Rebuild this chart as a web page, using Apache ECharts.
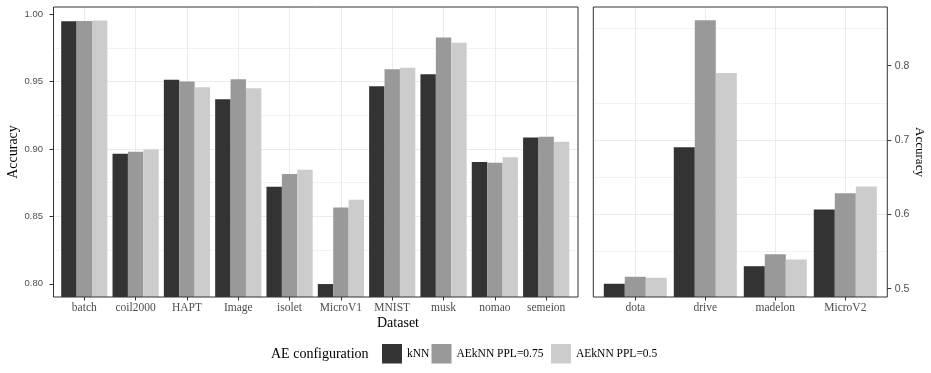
<!DOCTYPE html>
<html>
<head>
<meta charset="utf-8">
<script src="https://cdn.jsdelivr.net/npm/echarts@6/dist/echarts.min.js"></script>
<style>html,body{margin:0;padding:0;background:#fff;}#chart{width:931px;height:373px;}</style>
</head>
<body>
<div id="chart"></div>
<script>
const leftCats = ['batch','coil2000','HAPT','Image','isolet','MicroV1','MNIST','musk','nomao','semeion'];
const leftKNN   = [0.9948,0.8964,0.9513,0.9369,0.8719,0.7998,0.9466,0.9555,0.8904,0.9085];
const leftAE075 = [0.9950,0.8979,0.9500,0.9518,0.8815,0.8566,0.9592,0.9827,0.8897,0.9090];
const leftAE05  = [0.9953,0.8996,0.9458,0.9451,0.8845,0.8623,0.9602,0.9787,0.8939,0.9053];
const rightCats = ['dota','drive','madelon','MicroV2'];
const rightKNN   = [0.5067,0.6901,0.5303,0.6064];
const rightAE075 = [0.5161,0.8611,0.5465,0.6283];
const rightAE05  = [0.5148,0.7899,0.5393,0.6373];
const leftTicks = [0.80,0.85,0.90,0.95,1.00];
const rightTicks = [0.5,0.6,0.7,0.8];
const leftRange = [0.7902, 1.0053];
const rightRange = [0.4889, 0.8788];
const seriesNames = ['kNN','AEkNN PPL=0.75','AEkNN PPL=0.5'];
const seriesColors = ['#333333','#999999','#cccccc'];

const serif = 'Liberation Serif';
const sans = 'Liberation Sans';
const chart = echarts.init(document.getElementById('chart'), null, {renderer:'canvas'});

function outerGrid(left, width){
  return {left:left, top:7, width:width, height:290, show:true, z:10,
    borderColor:'#333333', borderWidth:1, backgroundColor:'transparent', outerBoundsMode:'none', containLabel:false};
}
function innerGrid(left, width){
  return {left:left, top:7, width:width, height:290, show:false, outerBoundsMode:'none', containLabel:false};
}
function catAxis(grid, cats){
  return {type:'category', gridIndex:grid, data:cats, boundaryGap:true,
    axisLine:{show:false, onZero:false},
    axisTick:{show:true, interval:0, alignWithLabel:true, length:3.5, lineStyle:{color:'#333333', width:1}},
    axisLabel:{show:true, interval:0, margin:4.5, fontFamily:serif, fontSize:11.5, color:'#4d4d4d'},
    splitLine:{show:true, interval:0, alignWithLabel:true, lineStyle:{color:'#ebebeb', width:1}}};
}
function valYAxis(grid, range, ticks, step, digits, pos, fontSize, margin, nameGap, rot, nameSize){
  return {type:'value', gridIndex:grid, position:pos, min:range[0], max:range[1],
    minInterval:step, maxInterval:step,
    axisLine:{show:false, onZero:false},
    axisTick:{show:true, length:4, customValues:ticks, lineStyle:{color:'#333333', width:1}},
    axisLabel:{show:true, customValues:ticks, margin:margin, fontFamily:sans, fontSize:fontSize, color:'#4d4d4d',
      formatter:function(v){return Number(v).toFixed(digits);}},
    splitLine:{show:true, showMinLine:false, showMaxLine:false, lineStyle:{color:'#ebebeb', width:1}},
    minorTick:{show:false, splitNumber:2},
    minorSplitLine:{show:true, lineStyle:{color:'#f3f3f3', width:1}},
    name:'Accuracy', nameLocation:'middle', nameGap:nameGap, nameRotate:rot, nameMoveOverlap:false,
    nameTextStyle:{fontFamily:serif, fontSize:nameSize, color:'#000000'}};
}
function hiddenY(grid, range){
  return {type:'value', gridIndex:grid, min:range[0], max:range[1], show:false, splitLine:{show:false},
    axisLine:{onZero:false}};
}
function hiddenX(grid){
  return {type:'value', gridIndex:grid, show:false, min:0, max:1, splitLine:{show:false}, axisLine:{onZero:false}};
}
function bars(name, data, axisIdx, color){
  return {type:'bar', name:name, data:data, xAxisIndex:axisIdx, yAxisIndex:axisIdx,
    barGap:'0%', barCategoryGap:'10%', itemStyle:{color:color}, clip:true,
    emphasis:{disabled:true}};
}
function legendItem(name, left){
  return {show:true, data:[name], left:left, top:344, padding:0, itemWidth:20, itemHeight:19.5, icon:'rect',
    selectedMode:false, textStyle:{fontFamily:serif, fontSize:11.5, color:'#000000'}};
}

const option = {
  animation:false,
  backgroundColor:'#ffffff',
  title:{text:'AE configuration', left:271, top:347, padding:0,
    textStyle:{fontFamily:serif, fontSize:14, fontWeight:'normal', color:'#000000'}},
  legend:[legendItem(seriesNames[0], 382), legendItem(seriesNames[1], 431.5), legendItem(seriesNames[2], 551)],
  grid:[outerGrid(53.5, 524.5), innerGrid(58.64, 513.2), outerGrid(593.3, 294), innerGrid(600.3, 280)],
  xAxis:[hiddenX(0), catAxis(1, leftCats), hiddenX(2), catAxis(3, rightCats)],
  yAxis:[
    valYAxis(0, leftRange, leftTicks, 0.05, 2, 'left', 9.5, 10.5, 33, 90, 14),
    hiddenY(1, leftRange),
    valYAxis(2, rightRange, rightTicks, 0.1, 1, 'right', 10.5, 7.5, 26, -90, 13),
    hiddenY(3, rightRange)
  ],
  graphic:[{type:'text', x:398, y:323, style:{text:'Dataset', fontFamily:serif, fontSize:14, fill:'#000000',
    textAlign:'center', textVerticalAlign:'middle'}}],
  series:[
    bars(seriesNames[0], leftKNN, 1, seriesColors[0]),
    bars(seriesNames[1], leftAE075, 1, seriesColors[1]),
    bars(seriesNames[2], leftAE05, 1, seriesColors[2]),
    bars(seriesNames[0], rightKNN, 3, seriesColors[0]),
    bars(seriesNames[1], rightAE075, 3, seriesColors[1]),
    bars(seriesNames[2], rightAE05, 3, seriesColors[2])
  ]
};
chart.setOption(option);
</script>
</body>
</html>
